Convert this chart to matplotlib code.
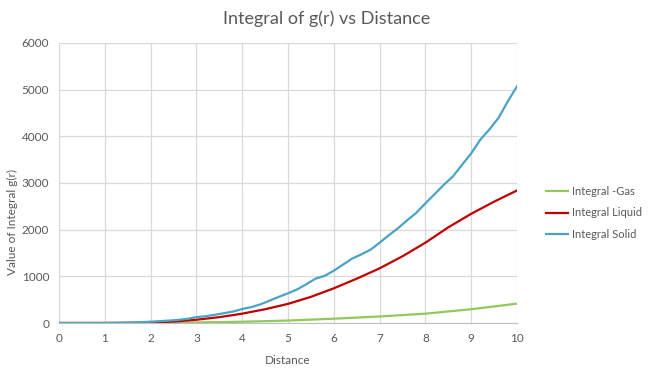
import matplotlib
matplotlib.use("Agg")
import matplotlib.pyplot as plt

# -----------------------------
# Data
# -----------------------------
x_solid = [0, 0.2, 0.4, 0.6, 0.8, 1.0, 1.2, 1.4, 1.6, 1.8, 2.0, 2.2, 2.4, 2.6, 2.8,
           3.0, 3.2, 3.4, 3.6, 3.8, 4.0, 4.2, 4.4, 4.6, 4.8, 5.0, 5.2, 5.4, 5.6, 5.8,
           6.0, 6.2, 6.4, 6.6, 6.8, 7.0, 7.2, 7.4, 7.6, 7.8, 8.0, 8.2, 8.4, 8.6, 8.8,
           9.0, 9.2, 9.4, 9.6, 9.8, 10.0]
solid = [0, 0, 0, 0, 0, 0, 3, 6, 10, 18, 28, 40, 52, 65, 90,
         125, 145, 175, 210, 245, 300, 340, 400, 480, 560, 636, 720, 830, 950, 1010,
         1121, 1250, 1380, 1470, 1570, 1720, 1880, 2030, 2200, 2360, 2565, 2760, 2960, 3140, 3390,
         3636, 3930, 4150, 4400, 4750, 5070]

x_liquid = [0, 0.5, 1.0, 1.5, 2.0, 2.5, 3.0, 3.5, 4.0, 4.5, 5.0, 5.5, 6.0, 6.5,
            7.0, 7.5, 8.0, 8.5, 9.0, 9.5, 10.0]
liquid = [0, 0, 0, 2, 10, 30, 70, 125, 200, 295, 410, 560, 743, 950,
          1171, 1430, 1721, 2050, 2340, 2600, 2840]

x_gas = [0, 1, 2, 3, 4, 5, 6, 7, 8, 9, 10]
gas = [0, 1, 5, 12, 27, 52, 92, 140, 200, 295, 415]

# -----------------------------
# Plot
# -----------------------------
plt.rcParams['font.family'] = ['Lato', 'DejaVu Sans']
txt = '#595959'

fig = plt.figure(figsize=(6.57, 3.71), dpi=100)
ax = fig.add_axes([59/657, 1 - 323/371, (517 - 59)/657, (323 - 43)/371])

ax.plot(x_gas, gas, color='#92C95A', lw=1.6, label='Integral -Gas')
ax.plot(x_liquid, liquid, color='#C00000', lw=1.6, label='Integral Liquid')
ax.plot(x_solid, solid, color='#4BA3C3', lw=1.6, label='Integral Solid')

ax.set_xlim(0, 10)
ax.set_ylim(0, 6000)
ax.set_xticks(range(0, 11))
ax.set_yticks(range(0, 6001, 1000))
ax.grid(color='#D9D9D9', lw=0.9)
ax.set_axisbelow(True)
for s in ['top', 'right', 'left']:
    ax.spines[s].set_visible(False)
ax.spines['bottom'].set_color('#BFBFBF')
ax.tick_params(length=0, labelsize=8.5, colors=txt, pad=7)

fig.text(327/657, 1 - 19/371, 'Integral of g(r) vs Distance', ha='center', va='center',
         fontsize=13, color=txt)
ax.set_xlabel('Distance', fontsize=8.5, color=txt, labelpad=8)
fig.text(12/657, 1 - 222/371, 'Value of Integral g(r)', rotation=90, ha='center',
         va='center', fontsize=8.5, color=txt)

fig.legend(loc='center left', bbox_to_anchor=(536/657, 1 - 213/371), frameon=False,
           fontsize=8, labelcolor=txt, handlelength=2.0, handletextpad=0.3,
           labelspacing=0.95)

fig.savefig('out.png', dpi=100)
